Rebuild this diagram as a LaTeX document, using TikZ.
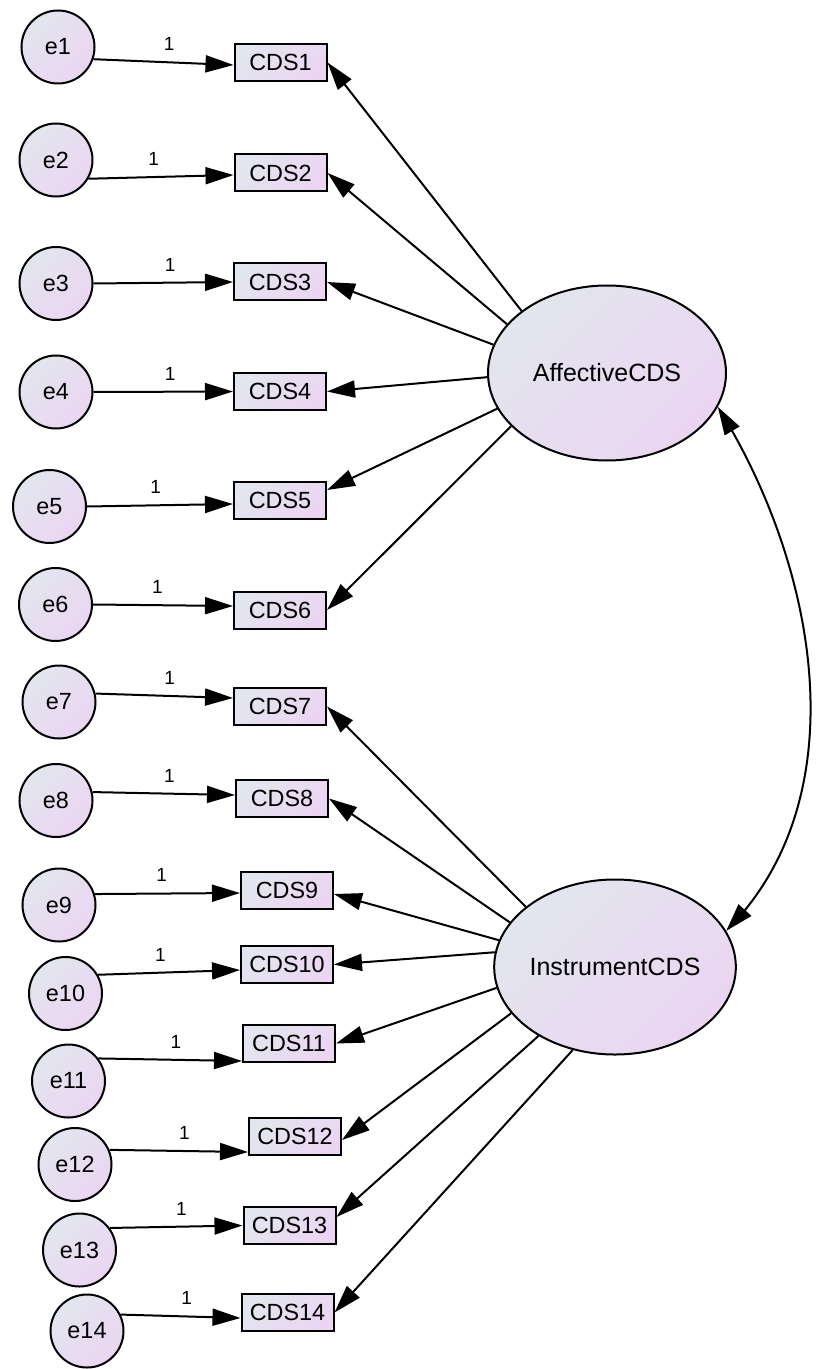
\documentclass[tikz,border=0pt]{standalone}
\usepackage{fontspec}
\setmainfont{Liberation Sans}
\usetikzlibrary{arrows.meta,shapes.geometric,bending}

\definecolor{shadeblue}{HTML}{E2E6EE}
\definecolor{shadepink}{HTML}{EBD5F2}

\begin{document}
\begin{tikzpicture}[x=0.5pt,y=0.5pt,
					>={Triangle[length=14pt,width=8.5pt]},
					line width=1pt,
					font=\fontsize{11.7}{13}\selectfont,
					grad/.style={top color=shadeblue,bottom color=shadepink,shading angle=45},
					err node/.style={circle,draw,grad,minimum size=36.5pt,inner sep=0pt},
					obs node/.style={rectangle,draw,grad,minimum width=46pt,minimum height=18.5pt,inner sep=0pt},
					lat node/.style={ellipse,draw,grad,minimum width=119pt,minimum height=87.5pt,inner sep=0pt,
					                 font=\fontsize{12.5}{14}\selectfont},
					one/.style={above,inner sep=5.3pt,font=\fontsize{9.5}{10}\selectfont}]

  \useasboundingbox (0,0) rectangle (815,-1369);

  % latent variables
  \node[lat node] (Aff)  at (607,-373) {AffectiveCDS};
  \node[lat node] (Inst) at (615,-967) {InstrumentCDS};

  % observed variables
  \node[obs node] (CDS1)  at (280.5,-62.5)  {CDS1};
  \node[obs node] (CDS2)  at (280.5,-173)   {CDS2};
  \node[obs node] (CDS3)  at (280,-282)     {CDS3};
  \node[obs node] (CDS4)  at (280,-391.5)   {CDS4};
  \node[obs node] (CDS5)  at (280,-500)     {CDS5};
  \node[obs node] (CDS6)  at (280,-610)     {CDS6};
  \node[obs node] (CDS7)  at (280,-706.5)   {CDS7};
  \node[obs node] (CDS8)  at (282,-798.5)   {CDS8};
  \node[obs node] (CDS9)  at (287,-890.5)   {CDS9};
  \node[obs node] (CDS10) at (287,-964.5)   {CDS10};
  \node[obs node] (CDS11) at (289,-1043.5)  {CDS11};
  \node[obs node] (CDS12) at (295,-1136)    {CDS12};
  \node[obs node] (CDS13) at (289.5,-1225.5) {CDS13};
  \node[obs node] (CDS14) at (287.5,-1312.5) {CDS14};

  % error terms
  \node[err node] (e1)  at (58,-47)     {e1};
  \node[err node] (e2)  at (56,-160)    {e2};
  \node[err node] (e3)  at (56,-283.5)  {e3};
  \node[err node] (e4)  at (56,-392)    {e4};
  \node[err node] (e5)  at (49.5,-506.5) {e5};
  \node[err node] (e6)  at (55.5,-604.5) {e6};
  \node[err node] (e7)  at (59,-702)    {e7};
  \node[err node] (e8)  at (56,-800.5)  {e8};
  \node[err node] (e9)  at (59,-905)    {e9};
  \node[err node] (e10) at (65.5,-993.5) {e10};
  \node[err node] (e11) at (68.5,-1081) {e11};
  \node[err node] (e12) at (75,-1164.5) {e12};
  \node[err node] (e13) at (79.5,-1250) {e13};
  \node[err node] (e14) at (87,-1331)   {e14};

  \path[->]
    (e1.-19)  edge node[one,pos=.54] {1} ([yshift=-1.25pt]CDS1.west)
    (e2.-30)  edge node[one,pos=.45] {1} ([yshift=-1pt]CDS2.west)
    (e3.0)    edge node[one,pos=.55] {1} (CDS3.west)
    (e4.0)    edge node[one,pos=.55] {1} (CDS4.west)
    (e5.0)    edge node[one,pos=.47] {1} ([yshift=-2pt]CDS5.west)
    (e6.0)    edge node[one,pos=.46] {1} ([yshift=2pt]CDS6.west)
    (e7.13)   edge node[one,pos=.54] {1} ([yshift=4.25pt]CDS7.west)
    (e8.13)   edge node[one,pos=.54] {1} ([yshift=1.75pt]CDS8.west)
    (e9.17)   edge node[one,pos=.46] {1} ([yshift=-1.25pt]CDS9.west)
    (e10.30)  edge node[one,pos=.44] {1} ([yshift=-2.75pt]CDS10.west)
    (e11.37)  edge node[one,pos=.54] {1} ([yshift=-8.75pt]CDS11.west)
    (e12.23)  edge node[one,pos=.54] {1} ([yshift=-8pt]CDS12.west)
    (e13.36)  edge node[one,pos=.54] {1} (CDS13.west)
    (e14.26)  edge node[one,pos=.55] {1} ([yshift=-2.75pt]CDS14.west);

  \path[->]
    (Aff.144) edge (CDS1.east)
    (Aff.154) edge (CDS2.east)
    (Aff.166) edge (CDS3.east)
    (Aff.182) edge (CDS4.east)
    (Aff.198) edge ([yshift=5pt]CDS5.east)
    (Aff.209) edge (CDS6.east);

  \path[->]
    (Inst.146) edge (CDS7.east)
    (Inst.157) edge (CDS8.east)
    (Inst.167) edge ([yshift=-1.75pt]CDS9.east)
    (Inst.173) edge (CDS10.east)
    (Inst.190) edge (CDS11.east)
    (Inst.204) edge ([yshift=-2pt]CDS12.east)
    (Inst.222) edge ([yshift=4.25pt]CDS13.east)
    (Inst.243) edge (CDS14.east);

  \draw[<->] (Aff.-17) to[out=-58,in=45,looseness=0.92] (Inst.18);
\end{tikzpicture}
\end{document}
